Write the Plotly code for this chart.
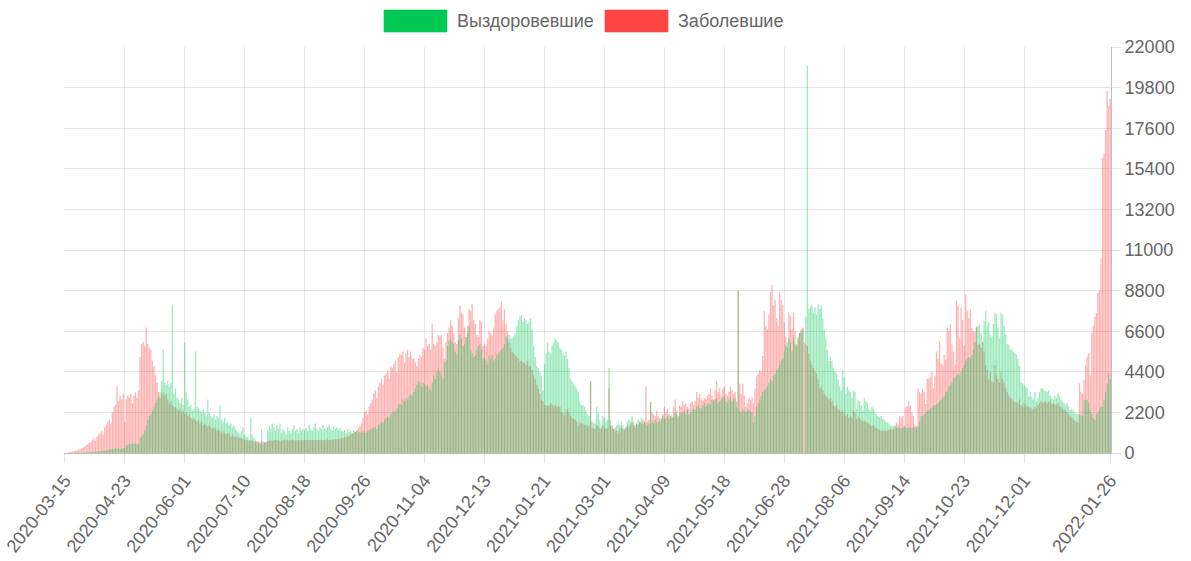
import pandas as pd
import plotly.graph_objects as go

# categories: daily dates (two dates absent from the source data in June 2021)
all_days = pd.date_range("2020-03-15", "2022-01-26", freq="D").strftime("%Y-%m-%d").tolist()
missing_days = ["2021-06-12", "2021-06-13"]
dates = [d for d in all_days if d not in missing_days]

# Выздоровевшие (recovered)
recovered = [
    0, 0, 0, 0, 0, 0, 0, 0, 10, 10,
    20, 20, 30, 30, 40, 40, 50, 50, 60, 60,
    70, 80, 90, 100, 100, 120, 140, 150, 160, 180,
    200, 220, 240, 260, 250, 250, 230, 240, 260, 250,
    400, 450, 500, 480, 500, 520, 500, 480, 500, 800,
    900, 1000, 1200, 1500, 1800, 2000, 2100, 2300, 2500, 2700,
    2900, 3100, 3300, 3900, 5600, 3800, 3700, 3900, 3600, 3800,
    8000, 3200, 3500, 3000, 2900, 2700, 3000, 2600, 6000, 3300,
    2900, 2500, 2600, 2300, 2400, 5500, 2500, 2400, 2300, 2200,
    2400, 2200, 2000, 2900, 2200, 2000, 1900, 2100, 1800, 2000,
    1900, 2600, 1800, 1700, 1900, 1600, 1700, 1500, 1600, 1400,
    1500, 1300, 1200, 1100, 1000, 1200, 1400, 1000, 900, 850,
    700, 1900, 1000, 800, 700, 600, 550, 500, 1300, 500,
    550, 600, 1200, 1500, 1300, 1600, 1400, 1200, 1500, 1300,
    1600, 1100, 1300, 1200, 1000, 1400, 1200, 1100, 1300, 1500,
    1200, 1300, 1100, 1400, 1200, 1300, 1250, 1350, 1200, 1500,
    1300, 1200, 1400, 1600, 1300, 1200, 1400, 1300, 1500, 1350,
    1250, 1400, 1550, 1300, 1200, 1450, 1300, 1400, 1250, 1350,
    1200, 1150, 1250, 1100, 1300, 1150, 1200, 1100, 1250, 1150,
    1200, 1050, 1150, 1100, 1200, 1100, 1100, 1200, 1250, 1300,
    1350, 1400, 1450, 1300, 1500, 1600, 1700, 1650, 1800, 1900,
    2000, 1900, 2100, 2200, 2300, 2200, 2400, 2600, 2700, 2600,
    2900, 2800, 3000, 2900, 3100, 3200, 3100, 3300, 3500, 3700,
    3900, 3800, 3600, 3800, 3700, 3600, 3700, 3500, 3400, 3800,
    4200, 4000, 4400, 4600, 4400, 4200, 4000, 4900, 5000, 5800,
    6100, 6200, 6000, 5900, 5500, 5300, 6100, 6400, 6200, 5800,
    5900, 6300, 6500, 6900, 5600, 5400, 5200, 5300, 5600, 5800,
    5900, 5600, 5100, 5200, 5000, 4800, 5300, 5100, 5300, 5000,
    5100, 5300, 5400, 5500, 5600, 5700, 5900, 6300, 6200, 6400,
    6200, 6200, 6300, 6500, 6900, 7200, 7400, 7500, 7100, 7300,
    7200, 7000, 7100, 7300, 6700, 5800, 5200, 4700, 4600, 4400,
    4200, 3400, 4800, 5400, 6000, 5500, 5400, 5800, 6000, 6200,
    6100, 6000, 5700, 5600, 5400, 5300, 5500, 5100, 4600, 4000,
    3900, 3700, 3600, 3500, 3300, 2800, 2600, 2600, 2500, 2300,
    2100, 2000, 3900, 1700, 1600, 1600, 2500, 2200, 1800, 1450,
    2000, 1900, 1700, 1800, 4600, 1800, 1500, 1300, 1200, 1500,
    1600, 1500, 1700, 1500, 1300, 1400, 1700, 1800, 1700, 2000,
    1700, 1500, 1600, 1800, 1700, 1900, 1600, 1700, 1600, 1500,
    1600, 2750, 1700, 1600, 1800, 1700, 1650, 1750, 1900, 2000,
    1850, 1900, 2000, 1850, 2000, 2050, 1950, 2200, 2100, 2000,
    2150, 2200, 2200, 2300, 2150, 2350, 2100, 2200, 2300, 2400,
    2350, 2500, 2600, 2450, 2400, 2600, 2700, 2500, 2650, 2700,
    2600, 2900, 2800, 2900, 3000, 2700, 2800, 2900, 3000, 3100,
    2800, 2700, 2900, 3000, 2800, 2900, 3000, 2500, 8750, 2300,
    2200, 2400, 2300, 2200, 2300, 2350, 2250, 2200, 1630, 2000,
    2500, 2700, 2900, 3100, 3300, 3400, 3500, 3600, 3800, 4000,
    3900, 4200, 4300, 4500, 4600, 4800, 5000, 5100, 5500, 5800,
    6000, 6200, 6000, 5500, 6300, 5900, 5800, 6300, 6500, 6600,
    6700, 0, 7400, 21000, 7800, 7900, 8050, 7600, 7900, 7500,
    8050, 7800, 8000, 7300, 6700, 6200, 5600, 5000, 5200, 5000,
    4600, 4400, 4300, 4000, 3600, 3400, 4500, 4100, 3200, 3600,
    3400, 3300, 3000, 3400, 3300, 2400, 2900, 2800, 2600, 2300,
    3000, 2800, 2700, 2400, 2300, 2500, 2400, 2200, 2100, 2000,
    1950, 2000, 1850, 1800, 1700, 1650, 1600, 1500, 1450,
    1470, 1380, 1370, 1400, 1350, 1380, 1370, 1400, 1380, 1370,
    1400, 1390, 1370, 1400, 1380, 1370, 1450, 1700, 2000, 2020,
    2100, 2200, 2290, 2300, 2400, 2450, 2570, 2600, 2650, 2700,
    2800, 2900, 3020, 3100, 3300, 3400, 3600, 3670, 3800, 4030,
    4100, 4220, 4300, 4200, 4400, 4600, 4770, 5000, 5130, 5200,
    5150, 5300, 5600, 6000, 6780, 6870, 6970, 6500, 6000, 7150,
    7700, 6900, 7100, 6400, 6300, 7000, 7600, 7500, 6800, 6200,
    7600, 7500, 6900, 6400, 5900, 5870, 5600, 5600, 5500, 5400,
    5320, 5100, 4700, 3850, 3780, 3700, 3600, 3500, 3060, 3300,
    3060, 2900, 3300, 2800, 3000, 3300, 3510, 3500, 3400, 3350,
    3300, 3400, 3100, 3000, 2900, 3100, 3000, 3250, 3100,
    2900, 2800, 2700, 2600, 2700, 2520, 2300, 2400, 2300, 2150,
    2150, 2100, 2100, 2050, 2000, 2880, 2880, 2900, 2700, 2300,
    2100, 1900, 1790, 2100, 2200, 2400, 2500, 2500, 2880, 3300,
    3780, 4330, 4000,
]

# Заболевшие (infected)
infected = [
    10, 20, 30, 40, 60, 80, 100, 120, 150, 180,
    200, 250, 300, 350, 420, 480, 550, 600, 700, 800,
    650, 900, 1000, 1100, 1200, 1000, 1400, 1500, 1700, 1800,
    1600, 2200, 2500, 2600, 3600, 2800, 3100, 2900, 3200, 1700,
    2900, 3100, 3000, 3200, 2700, 3100, 3300, 3000, 3400, 5200,
    5900, 6000, 5800, 6800, 5900, 5700, 5600, 5000, 4700, 4200,
    3800, 3300, 3000, 3200, 3300, 3100, 3200, 2900, 2700, 2800,
    2600, 2500, 2500, 2400, 2300, 2400, 2200, 2300, 2100, 2200,
    2000, 2100, 1900, 1800, 1900, 1800, 1700, 1800, 1600, 1700,
    1500, 1600, 1500, 1400, 1500, 1400, 1300, 1400, 1300, 1200,
    1300, 1200, 1100, 1200, 1100, 1000, 1100, 1000, 900, 1000,
    900, 850, 900, 800, 850, 800, 750, 700, 720, 680,
    650, 700, 650, 620, 600, 650, 620, 600, 640, 620,
    600, 600, 650, 680, 700, 650, 700, 720, 680, 700,
    650, 680, 700, 720, 690, 700, 680, 700, 720, 700,
    680, 690, 700, 710, 680, 700, 720, 700, 690, 710,
    700, 720, 700, 690, 700, 710, 720, 700, 690, 700,
    720, 730, 710, 700, 720, 740, 730, 750, 760, 780,
    800, 820, 850, 880, 900, 950, 1000, 1050, 1100, 1150,
    1250, 1350, 1450, 1600, 1900, 2200, 2300, 2100, 2500, 2700,
    2900, 3200, 3400, 3000, 3600, 3800, 4000, 3700, 4200, 4300,
    4500, 4000, 4700, 4600, 4800, 5000, 4400, 5200, 5400, 5300,
    5500, 4900, 5400, 5600, 5200, 5500, 5100, 5150, 4900, 4700,
    5100, 5300, 5200, 5700, 5600, 6200, 5800, 5900, 5600, 7000,
    5900, 5800, 6000, 6400, 6300, 6400, 5700, 5100, 6000, 6500,
    6800, 7200, 6900, 6500, 6000, 5900, 7300, 8000, 7600, 7500,
    6800, 6300, 6900, 7800, 7700, 8050, 7200, 7000, 6400, 6300,
    7200, 7100, 5800, 5900, 5800, 6200, 6600, 6500, 6400, 6800,
    7500, 7700, 7800, 7900, 8250, 7200, 7800, 7000, 6600, 6000,
    5700, 5500, 5400, 5300, 5200, 5100, 5000, 5000, 4900, 4900,
    4800, 5000, 4700, 4700, 4500, 4200, 4000, 3700, 3500, 3200,
    2900, 2800, 2600, 2600, 2550, 2600, 2700, 2600, 2500, 2600,
    2500, 2550, 2500, 2200, 2150, 2000, 2200, 2400, 2200, 2000,
    1900, 1850, 1800, 1700, 1450, 1650, 1600, 1600, 1500, 1550,
    1450, 1500, 3850, 1400, 1300, 1350, 1500, 1450, 1350, 1300,
    1500, 1400, 1300, 1350, 3500, 1500, 1400, 1300, 1400, 1200,
    1100, 1300, 1400, 1300, 1250, 1400, 1500, 1400, 1550, 1700,
    1500, 1400, 1600, 1500, 1700, 1600, 1800, 1700, 3600, 1700,
    1800, 2750, 2200, 2100, 2000, 2300, 2000, 1900, 1800, 2100,
    2500, 2200, 2400, 2100, 2000, 1900, 2500, 2900, 2300, 1900,
    2600, 2500, 2800, 2600, 2700, 2500, 2400, 2700, 2800, 2600,
    2800, 3300, 3000, 3200, 2900, 2800, 3000, 2900, 3100, 3200,
    3500, 3100, 2900, 3400, 3900, 3300, 3500, 3100, 3500, 3600,
    3200, 3100, 3300, 3600, 3400, 3200, 3300, 2800, 8800, 3750,
    3200, 3750, 3100, 2500, 2700, 3000, 2900, 3000, 2700, 3500,
    4150, 4300, 4500, 4400, 5250, 7700, 6900, 6700, 7500, 8700,
    9100, 8000, 8300, 7300, 6900, 8700, 8300, 8000, 7100, 6300,
    5700, 7600, 7400, 6700, 7600, 6600, 5900, 6200, 6500, 6700,
    6800, 6000, 5900, 5800, 5400, 5000, 4800, 4600, 4400, 4300,
    4000, 3500, 3600, 3400, 3200, 3100, 3000, 2900, 3000, 2800,
    2600, 2500, 2600, 2400, 2300, 2200, 2300, 2100, 2000, 2100,
    1900, 2000, 1900, 2300, 2200, 1830, 2000, 1900, 1800, 1700,
    1750, 1700, 1650, 1600, 1500, 1450, 1500, 1400, 1350, 1300,
    1250, 1200, 1190, 1250, 1200, 1200, 1250, 1300, 1250,
    1300, 1500, 1650, 1550, 2020, 1900, 2020, 1500, 2470, 2550,
    2790, 2550, 2200, 2000, 1500, 1450, 3480, 3300, 3200, 3480,
    3300, 2650, 4030, 4030, 4100, 4400, 3500, 4200, 5500, 5100,
    6050, 4850, 4750, 5300, 5050, 6780, 6600, 6970, 5900, 5500,
    4800, 8250, 8000, 6200, 7900, 7200, 5800, 8620, 7700, 7300,
    7800, 6780, 6600, 6550, 6870, 5870, 5900, 5700, 6050, 5500,
    4770, 4500, 4000, 4400, 3900, 3800, 4770, 4200, 4000, 3800,
    4400, 4000, 3800, 3500, 3300, 3120, 3000, 2950, 2800, 2750,
    2750, 2700, 2900, 2600, 2520, 2700, 2600, 2500, 2520, 2450,
    2400, 2350, 2500, 2400, 2600, 2700, 2800, 2700, 2750, 2800,
    2700, 2750, 2800, 2650, 2700, 2600, 2650, 2700, 2550,
    2500, 2400, 2350, 2300, 2200, 2100, 2000, 1950, 1800, 1750,
    1700, 1650, 3780, 3300, 3200, 3960, 4780, 5230, 5400, 4200,
    6500, 6900, 7400, 7600, 8670, 8800, 10500, 16000, 16200, 17500,
    19600, 18800, 19200,
]

tick_labels = ["2020-03-15", "2020-04-23", "2020-06-01", "2020-07-10", "2020-08-18",
               "2020-09-26", "2020-11-04", "2020-12-13", "2021-01-21", "2021-03-01",
               "2021-04-09", "2021-05-18", "2021-06-28", "2021-08-06", "2021-09-14",
               "2021-10-23", "2021-12-01", "2022-01-26"]
y_ticks = [0, 2200, 4400, 6600, 8800, 11000, 13200, 15400, 17600, 19800, 22000]

assert len(recovered) == len(dates), f"recovered {len(recovered)} vs {len(dates)}"
assert len(infected) == len(dates), f"infected {len(infected)} vs {len(dates)}"

GREEN = "rgb(0,200,83)"
RED = "rgb(255,68,68)"
FONT = "Liberation Sans, Arial, Helvetica, sans-serif"
GRID = "rgba(0,0,0,0.1)"

fig = go.Figure()
fig.add_trace(go.Bar(x=dates, y=infected, name="Заболевшие",
                     marker=dict(color="rgba(255,68,68,0.40)", line=dict(width=0))))
fig.add_trace(go.Bar(x=dates, y=recovered, name="Выздоровевшие",
                     marker=dict(color="rgba(0,200,83,0.38)", line=dict(width=0))))

L, R, T, B = 64, 80, 47, 108
W, H = 1191, 561
pw, ph = W - L - R, H - T - B


def px(x):
    return (x - L) / pw


def py(y):
    return (H - B - y) / ph


shapes = [
    dict(type="rect", xref="paper", yref="paper", x0=px(384), x1=px(447), y0=py(32), y1=py(10),
         fillcolor=GREEN, line=dict(color="rgba(0,200,83,0.6)", width=1)),
    dict(type="rect", xref="paper", yref="paper", x0=px(605), x1=px(668), y0=py(32), y1=py(10),
         fillcolor=RED, line=dict(color="rgba(255,68,68,0.6)", width=1)),
]
annotations = [
    dict(xref="paper", yref="paper", x=px(455), y=py(21), text="Выздоровевшие", showarrow=False,
         xanchor="left", yanchor="middle", font=dict(family=FONT, size=18, color="#666")),
    dict(xref="paper", yref="paper", x=px(676), y=py(21), text="Заболевшие", showarrow=False,
         xanchor="left", yanchor="middle", font=dict(family=FONT, size=18, color="#666")),
]

fig.update_layout(
    width=W, height=H,
    margin=dict(l=L, r=R, t=T, b=B, pad=0),
    paper_bgcolor="white", plot_bgcolor="white",
    barmode="overlay", bargap=0.15,
    showlegend=False,
    shapes=shapes, annotations=annotations,
    font=dict(family=FONT, size=18, color="#666"),
    xaxis=dict(type="category", tickmode="array", tickvals=tick_labels, ticktext=tick_labels,
               tickangle=-52, showgrid=True, gridcolor=GRID, gridwidth=1,
               ticks="outside", ticklen=9, tickcolor=GRID, automargin=False,
               showline=True, linecolor="rgba(0,0,0,0.25)", linewidth=1,
               tickfont=dict(family=FONT, size=18, color="#666"), fixedrange=True),
    yaxis=dict(side="right", range=[0, 22000], tickmode="array", tickvals=y_ticks,
               ticktext=[str(v) for v in y_ticks], showgrid=True, gridcolor=GRID,
               ticks="outside", ticklen=9, tickcolor=GRID, zeroline=False, automargin=False,
               showline=True, linecolor="rgba(0,0,0,0.25)", linewidth=1,
               tickfont=dict(family=FONT, size=18, color="#666"), fixedrange=True),
)

fig.write_html("out.html", config={"displayModeBar": False})
